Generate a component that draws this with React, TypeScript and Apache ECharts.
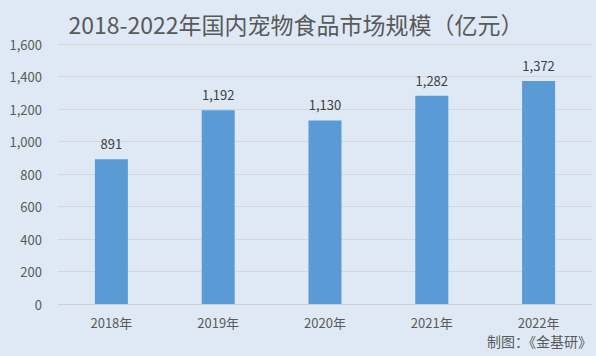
import React, { useEffect, useRef } from "react";
import * as echarts from "echarts";

const categories = ["2018年", "2019年", "2020年", "2021年", "2022年"];
const values = [891, 1192, 1130, 1282, 1372];
const titleText = "2018-2022年国内宠物食品市场规模（亿元）";
const sourceText = "制图：《金基研》";

const FONT = "'Noto Sans CJK SC', 'Noto Sans', sans-serif";

export default function App() {
  const ref = useRef<HTMLDivElement>(null);
  useEffect(() => {
    const chart = echarts.init(ref.current!, undefined, { renderer: "svg" });
    chart.setOption({
      animation: false,
      backgroundColor: "#dee9f5",
      textStyle: { fontFamily: FONT },
      title: {
        text: titleText,
        left: 291,
        textAlign: "center",
        top: 7,
        textStyle: { fontSize: 23, fontWeight: "normal", color: "#595959", fontFamily: FONT },
      },
      graphic: [
        {
          type: "text",
          left: 487,
          top: 334,
          style: { text: sourceText, fontSize: 14, fill: "#595959", fontFamily: FONT },
        },
      ],
      grid: { left: 58, right: 4, top: 44, bottom: 52, containLabel: false },
      xAxis: {
        type: "category",
        data: categories,
        axisTick: { show: false },
        axisLine: { show: true, lineStyle: { color: "#d0d0d0" } },
        axisLabel: { color: "#595959", fontSize: 13, margin: 12, fontFamily: FONT },
      },
      yAxis: {
        type: "value",
        min: 0,
        max: 1600,
        interval: 200,
        axisLine: { show: false },
        axisTick: { show: false },
        splitLine: { lineStyle: { color: "#d6d6d6" } },
        axisLabel: {
          color: "#595959",
          fontSize: 13,
          margin: 16,
          fontFamily: FONT,
          formatter: (v: number) => v.toLocaleString("en-US"),
        },
      },
      series: [
        {
          type: "bar",
          data: values,
          barWidth: 33,
          itemStyle: { color: "#5b9bd5" },
          label: {
            show: true,
            position: "top",
            distance: 9,
            color: "#404040",
            fontSize: 13,
            fontFamily: FONT,
            formatter: (p: any) => Number(p.value).toLocaleString("en-US"),
          },
        },
      ],
    });
    return () => chart.dispose();
  }, []);
  return <div ref={ref} style={{ width: 596, height: 356, position: "absolute", left: 0, top: 0 }} />;
}
